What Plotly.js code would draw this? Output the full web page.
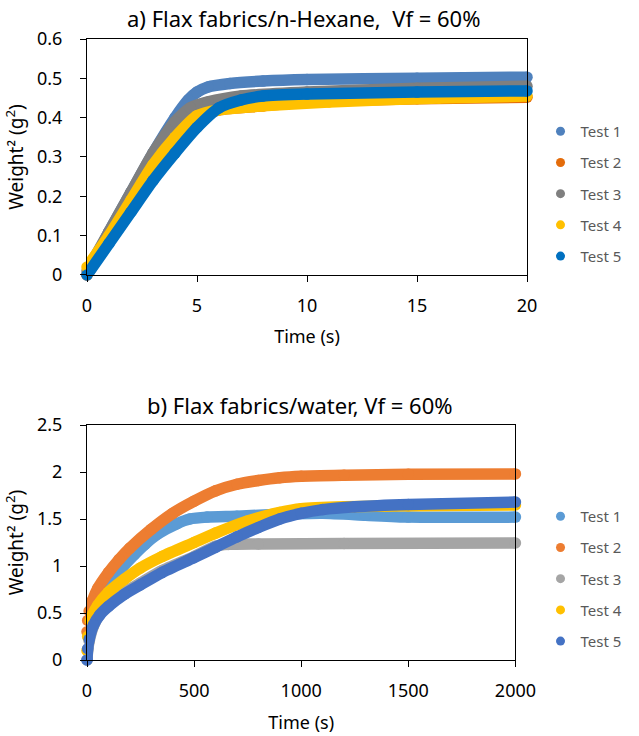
<!DOCTYPE html>
<html>
<head>
<meta charset="utf-8">
<script src="https://cdn.plot.ly/plotly-3.0.1.min.js"></script>
<style>html,body{margin:0;padding:0;background:#fff;}#chart{width:639px;height:736px;}</style>
</head>
<body>
<div id="chart"></div>
<script>
// ---------- data ----------
const testNames = ["Test 1", "Test 2", "Test 3", "Test 4", "Test 5"];

// a) Flax fabrics / n-Hexane  (time in s, weight^2 in g^2)
const hexT1 = [0, 1, 2, 3, 4, 4.6, 5, 5.5, 6.5, 8, 10, 15, 20];
const hexW1 = [0, 0.11, 0.21, 0.31, 0.40, 0.445, 0.465, 0.478, 0.487, 0.493, 0.497, 0.5, 0.503];
const hexT2 = [0, 1, 2, 3, 4, 5, 6, 8, 10, 15, 20];
const hexW2 = [0, 0.09, 0.18, 0.27, 0.35, 0.40, 0.42, 0.43, 0.44, 0.448, 0.452];
const hexT3 = [0, 1, 2, 3, 4, 4.7, 5.5, 7, 10, 15, 20];
const hexW3 = [0.01, 0.11, 0.21, 0.31, 0.39, 0.425, 0.44, 0.455, 0.465, 0.475, 0.48];
const hexT4 = [0, 1, 2, 3, 4, 5, 6, 8, 11, 16, 20];
const hexW4 = [0.02, 0.1, 0.19, 0.28, 0.35, 0.405, 0.42, 0.43, 0.44, 0.45, 0.455];
const hexT5 = [0, 1, 2, 3, 4, 5, 6, 7, 8, 10, 15, 20];
const hexW5 = [0, 0.08, 0.16, 0.24, 0.31, 0.375, 0.425, 0.445, 0.455, 0.46, 0.465, 0.468];

// b) Flax fabrics / water
const watT1 = [0, 5, 20, 50, 100, 160, 220, 270, 330, 420, 480, 560, 700, 900, 1100, 1300, 1500, 2000];
const watW1 = [0, 0.25, 0.42, 0.58, 0.76, 0.97, 1.12, 1.23, 1.34, 1.45, 1.5, 1.52, 1.53, 1.55, 1.56, 1.54, 1.52, 1.52];
const watT2 = [0, 3, 10, 25, 50, 100, 150, 200, 300, 400, 500, 600, 700, 800, 900, 1000, 1200, 1500, 2000];
const watW2 = [0.3, 0.42, 0.52, 0.63, 0.76, 0.93, 1.07, 1.19, 1.39, 1.56, 1.69, 1.8, 1.87, 1.91, 1.94, 1.955, 1.965, 1.975, 1.98];
const watT3 = [0, 3, 10, 30, 60, 100, 175, 250, 350, 500, 600, 660, 800, 1200, 2000];
const watW3 = [0, 0.1, 0.2, 0.36, 0.49, 0.59, 0.72, 0.82, 0.95, 1.1, 1.21, 1.23, 1.235, 1.24, 1.245];
const watT4 = [0, 3, 15, 50, 100, 175, 250, 350, 500, 600, 750, 900, 1000, 1200, 1500, 2000];
const watW4 = [0.1, 0.25, 0.42, 0.58, 0.72, 0.86, 0.98, 1.1, 1.25, 1.35, 1.48, 1.57, 1.61, 1.63, 1.64, 1.65];
const watT5 = [0, 3, 10, 30, 60, 100, 175, 250, 350, 500, 600, 700, 800, 900, 1000, 1100, 1250, 1500, 2000];
const watW5 = [0, 0.12, 0.22, 0.37, 0.48, 0.57, 0.7, 0.8, 0.93, 1.09, 1.2, 1.31, 1.41, 1.5, 1.56, 1.6, 1.63, 1.655, 1.68];

const hexTitle = "a) Flax fabrics/n-Hexane,  Vf = 60%";
const watTitle = "b) Flax fabrics/water, Vf = 60%";
const xTitle = "Time (s)";
const yTitle = "Weight² (g<sup>2</sup>)";

// ---------- styles ----------
const hexColors = ["#4F81BD", "#E46C0A", "#7F7F7F", "#FFC000", "#0070C0"];
const watColors = ["#5B9BD5", "#ED7D31", "#A5A5A5", "#FFC000", "#4472C4"];
const FONT = "Noto Sans, Open Sans, sans-serif";
const BAND = 11.5;

const hexX = [hexT1, hexT2, hexT3, hexT4, hexT5];
const hexY = [hexW1, hexW2, hexW3, hexW4, hexW5];
const watX = [watT1, watT2, watT3, watT4, watT5];
const watY = [watW1, watW2, watW3, watW4, watW5];

const traces = [];
function addSet(xs, ys, colors, xa, ya, legendId, prefix) {
  for (let i = 0; i < testNames.length; i++) {
    traces.push({
      type: "scatter", mode: "lines+markers", x: xs[i], y: ys[i],
      xaxis: xa, yaxis: ya, name: testNames[i], showlegend: false,
      legendgroup: prefix + i, cliponaxis: false,
      line: {color: colors[i], width: BAND, shape: "spline", smoothing: 0.6},
      marker: {color: colors[i], size: BAND},
      hoverinfo: "x+y+name"
    });
  }
  for (let i = 0; i < testNames.length; i++) {
    traces.push({
      type: "scatter", mode: "markers", x: [null], y: [null],
      xaxis: xa, yaxis: ya, name: testNames[i], legend: legendId,
      legendgroup: prefix + i, marker: {color: colors[i], size: 9}
    });
  }
}
addSet(hexX, hexY, hexColors, "x", "y", "legend", "a");
addSet(watX, watY, watColors, "x2", "y2", "legend2", "b");

const axisCommon = {
  showline: true, linecolor: "#000", linewidth: 1, mirror: true,
  ticks: "outside", ticklen: 6, tickcolor: "#000", tickwidth: 1,
  showgrid: false, zeroline: false, automargin: false,
  tickfont: {family: FONT, size: 18, color: "#000"},
};
const legendCommon = {
  x: 1.0307, xanchor: "left", yanchor: "top", bgcolor: "rgba(0,0,0,0)",
  font: {family: FONT, size: 15, color: "#595959"}, tracegroupgap: 8.7,
  itemclick: false, itemdoubleclick: false
};

const layout = {
  width: 639, height: 736,
  margin: {l: 87, r: 96, t: 39, b: 76},
  paper_bgcolor: "#fff", plot_bgcolor: "#fff",
  font: {family: FONT, color: "#000"},
  showlegend: true,
  xaxis: Object.assign({}, axisCommon, {domain: [0, 1], anchor: "y", range: [0, 20], dtick: 5, tick0: 0,
    ticklabelstandoff: 8,
    title: {text: xTitle, font: {family: FONT, size: 18, color: "#000"}, standoff: 14}}),
  yaxis: Object.assign({}, axisCommon, {domain: [0.620, 1], anchor: "x", range: [0, 0.6], dtick: 0.1, tick0: 0,
    ticklabelstandoff: 14,
    title: {text: yTitle, font: {family: FONT, size: 19, color: "#000"}, standoff: 8}}),
  xaxis2: Object.assign({}, axisCommon, {domain: [0, 0.9737], anchor: "y2", range: [0, 2000], dtick: 500, tick0: 0,
    ticklabelstandoff: 8,
    title: {text: xTitle, font: {family: FONT, size: 18, color: "#000"}, standoff: 15}}),
  yaxis2: Object.assign({}, axisCommon, {domain: [0, 0.3784], anchor: "x2", range: [0, 2.5], dtick: 0.5, tick0: 0,
    ticklabelstandoff: 14,
    title: {text: yTitle, font: {family: FONT, size: 19, color: "#000"}, standoff: 8}}),
  legend: Object.assign({}, legendCommon, {y: 0.8776}),
  legend2: Object.assign({}, legendCommon, {y: 0.2576}),
  annotations: [
    {text: hexTitle, xref: "paper", yref: "paper", x: 0.491, y: 1.0338, xanchor: "center", yanchor: "middle",
     showarrow: false, font: {family: FONT, size: 22, color: "#000"}},
    {text: watTitle, xref: "paper", yref: "paper", x: 0.485, y: 0.4106, xanchor: "center", yanchor: "middle",
     showarrow: false, font: {family: FONT, size: 22, color: "#000"}}
  ]
};

Plotly.newPlot("chart", traces, layout, {staticPlot: true, displayModeBar: false});
</script>
</body>
</html>
